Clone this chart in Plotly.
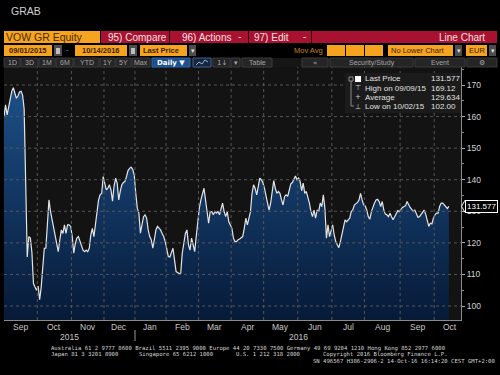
import pandas as pd
import plotly.graph_objects as go

# ---------------- data ----------------
holidays = ["2015-12-24", "2015-12-25", "2015-12-31", "2016-01-01", "2016-03-25", "2016-03-28"]

sep15 = [160.0, 163.7, 160.5, 163.0, 166.5, 168.0, 169.12, 167.5, 165.8, 166.5, 167.8,
         168.0, 166.8, 162.4, 132.0, 115.5, 122.0, 121.5, 117.0, 107.2, 106.0, 105.0]
oct15 = [106.3, 102.0, 106.0, 112.0, 118.3, 118.3, 125.0, 133.6, 130.0, 127.5, 125.2,
         122.5, 119.8, 117.2, 120.9, 124.1, 123.0, 125.7, 123.0, 125.7, 125.7, 125.2]
nov15 = [122.0, 116.7, 119.8, 121.5, 122.0, 120.4, 118.8, 117.7, 117.2, 117.7, 117.2,
         118.3, 122.5, 124.6, 122.0, 126.2, 128.9, 133.6, 135.2, 135.7, 141.0]
dec15 = [138.9, 136.8, 137.3, 138.4, 136.8, 133.2, 138.0, 140.5, 138.9, 133.6,
         136.3, 138.4, 139.1, 139.4, 141.0, 142.9, 143.6, 144.0, 143.3, 141.5]
jan16 = [135.7, 131.0, 129.4, 123.1, 125.7, 128.3, 128.9, 127.8, 124.1, 122.0,
         121.0, 118.3, 121.0, 124.1, 125.2, 124.6, 124.1, 123.0, 122.0, 120.4]
feb16 = [118.3, 115.7, 115.5, 117.2, 118.3, 114.6, 110.9, 110.6, 110.2, 110.4, 116.7,
         119.8, 123.0, 124.1, 119.4, 117.7, 121.5, 119.4, 117.2, 122.0, 127.3]
mar16 = [131.0, 133.6, 135.7, 137.3, 133.6, 130.4, 126.2, 129.9, 129.9, 128.9, 129.9,
         129.4, 129.9, 128.9, 131.0, 132.6, 129.9, 128.3, 129.9, 126.7, 125.7]
apr16 = [124.6, 121.5, 120.4, 120.4, 121.0, 121.2, 121.5, 122.0, 124.6, 127.8, 125.7,
         127.8, 129.9, 135.7, 138.4, 137.3, 135.2, 137.8, 140.5, 140.0, 139.1]
may16 = [137.3, 134.7, 132.6, 130.4, 132.6, 136.3, 139.7, 137.3, 135.7, 136.3, 135.7,
         133.6, 132.0, 134.7, 135.2, 134.7, 137.3, 138.7, 139.1, 140.0, 141.2, 140.0]
jun16 = [140.5, 139.5, 136.5, 138.9, 135.7, 136.3, 134.7, 132.6, 129.9, 128.3, 130.4,
         127.8, 130.4, 129.9, 132.6, 131.5, 135.2, 131.0, 121.5, 125.7, 122.0, 124.1]
jul16 = [125.7, 122.5, 120.4, 119.4, 118.5, 120.4, 123.0, 125.2, 127.3, 126.7, 127.3,
         127.8, 129.9, 130.4, 132.0, 132.3, 132.8, 133.6, 135.7, 133.6, 132.0]
aug16 = [131.7, 130.4, 128.3, 127.5, 129.9, 131.5, 132.6, 133.6, 133.8, 133.1, 131.5, 133.1,
         130.4, 129.1, 128.9, 128.3, 129.4, 128.3, 127.3, 128.3, 129.4, 130.2, 129.9]
sep16 = [130.6, 131.2, 131.5, 131.7, 133.1, 132.0, 131.2, 130.6, 129.9, 130.4, 129.1,
         128.1, 128.3, 129.1, 129.9, 130.4, 129.1, 127.5, 125.2, 126.2, 126.0, 127.8]
oct16 = [128.9, 129.4, 129.4, 131.5, 132.6, 132.6, 132.0, 131.7, 130.9, 131.577]

month_labels = ["Sep", "Oct", "Nov", "Dec", "Jan", "Feb", "Mar", "Apr", "May",
                "Jun", "Jul", "Aug", "Sep", "Oct"]
year_labels = ["2015", "2016"]
y_ticks = [100, 110, 120, 130, 140, 150, 160, 170]
last_price = 131.577
stats_labels = ["Last Price", "High on 09/09/15", "Average", "Low on 10/02/15"]
stats_values = ["131.577", "169.12", "129.634", "102.00"]

# ---------------- trading calendar ----------------
hol = pd.to_datetime(holidays)
cal = pd.bdate_range("2015-09-01", "2016-10-31")
cal = cal[~cal.isin(hol)]
dates = cal[cal <= pd.Timestamp("2016-10-14")]
prices = (sep15 + oct15 + nov15 + dec15 + jan16 + feb16 + mar16 + apr16 + may16
          + jun16 + jul16 + aug16 + sep16 + oct16)
assert len(prices) == len(dates)
pos = list(range(len(dates)))

periods = list(cal.to_period("M"))
months = []
for p in periods:
    if p not in months:
        months.append(p)
starts = [periods.index(m) for m in months]
counts = [periods.count(m) for m in months]
boundaries = [s - 0.5 for s in starts[1:]]
mids = [s - 0.5 + c / 2 for s, c in zip(starts, counts)]
year_b = starts[[i for i, m in enumerate(months) if m.year == 2016][0]] - 0.5

XMAX = 294.8
YMIN, YMAX = 95.57, 175.7

# ---------------- geometry helpers ----------------
W, H = 500, 375
L, R, T, B = 4, 39, 67, 55
PW, PH = W - L - R, H - T - B


def px(x):
    return (x - L) / PW


def py(y):
    return (H - B - y) / PH


shapes = []
annotations = []

ORANGE = "#f6a31f"
RED = "#a91131"
DARKTXT = "#3a1e00"
GRID = "#565656"
FONT = "Liberation Sans"


def rect(x0, y0, x1, y1, fill, line=None, lw=1):
    shapes.append(dict(type="rect", xref="paper", yref="paper",
                       x0=px(x0), x1=px(x1), y0=py(y1), y1=py(y0),
                       fillcolor=fill,
                       line=dict(color=line if line else fill, width=lw if line else 0),
                       layer="above"))


def seg(pts, color, w=1):
    path = "M " + " L ".join(f"{px(a):.5f},{py(b):.5f}" for a, b in pts)
    shapes.append(dict(type="path", xref="paper", yref="paper", path=path,
                       line=dict(color=color, width=w), layer="above"))


def text(x, y, s, size=9, color="#d8d8d8", anchor="left", family=FONT):
    annotations.append(dict(xref="paper", yref="paper", x=px(x), y=py(y), text=s,
                            showarrow=False, xanchor=anchor, yanchor="middle",
                            borderpad=0,
                            font=dict(size=size, color=color, family=family)))


# ---------------- grid (drawn over the fill) ----------------
for b in boundaries:
    shapes.append(dict(type="line", xref="x", yref="paper", x0=b, x1=b, y0=0, y1=1,
                       line=dict(color=GRID, width=1, dash="dot"), layer="above"))
for v in y_ticks:
    shapes.append(dict(type="line", xref="paper", yref="y", x0=0, x1=1, y0=v, y1=v,
                       line=dict(color=GRID, width=1, dash="dot"), layer="above"))

# ---------------- header / toolbar ----------------
text(10, 11, "GRAB", 10.5, "#d0d0d0")

# row 1
rect(4, 31, 100, 43, ORANGE)
text(5, 37, "VOW GR Equity", 10.5, "#4a2a00")
rect(101, 31, 497, 43, RED)
for sx in (169, 248, 311):
    rect(sx, 31, sx + 1, 43, "#2a0008")
text(137, 37, "95) Compare", 10, "#f4e2e2", "center")
text(206, 37, "96) Actions", 10, "#f4e2e2", "center")
text(239, 36, "-", 10, "#f4e2e2", "center")
text(271, 37, "97) Edit", 10, "#f4e2e2", "center")
text(304, 36, "-", 10, "#f4e2e2", "center")
text(486, 37, "Line Chart", 10, "#f4e2e2", "right")

# row 2
rect(4, 45, 52, 56, ORANGE)
text(28, 50.5, "<b>09/01/2015</b>", 7.5, DARKTXT, "center")
rect(54, 45, 62, 56, "#4d4d4d")
rect(56, 48, 60, 54, "#bdbdbd")
text(67, 50, "-", 8, "#9a9a9a", "center")
rect(75, 45, 127, 56, ORANGE)
text(101, 50.5, "<b>10/14/2016</b>", 7.5, DARKTXT, "center")
rect(129, 45, 137, 56, "#4d4d4d")
rect(131, 48, 135, 54, "#bdbdbd")
rect(140, 45, 187, 56, ORANGE)
text(142, 50.5, "<b>Last Price</b>", 7.5, DARKTXT)
rect(189, 45, 196, 56, "#4d4d4d")
text(192.5, 50.5, "▾", 7, "#dddddd", "center")
text(293, 50.5, "Mov Avg", 7.5, "#c98518")
for a, b in ((327, 345), (346, 364), (365, 383)):
    rect(a, 45, b, 56, ORANGE)
rect(388, 45, 453, 56, ORANGE)
text(390, 50.5, "No Lower Chart", 7.5, DARKTXT)
rect(455, 45, 462, 56, "#4d4d4d")
text(458.5, 50.5, "▾", 7, "#dddddd", "center")
rect(466, 45, 487, 56, ORANGE)
text(468, 50.5, "EUR", 7.5, DARKTXT)
rect(489, 45, 496, 56, "#4d4d4d")
text(492.5, 50.5, "▾", 7, "#dddddd", "center")

# row 3
rect(4, 58, 497, 67, "#161616")
left_btns = [(4, 20, "1D"), (21, 38, "3D"), (39, 55, "1M"), (56, 73, "6M"),
             (74, 99, "YTD"), (100, 115, "1Y"), (116, 131, "5Y"), (132, 150, "Max"),
             (213, 230, "1↓"), (231, 240, "▾"), (242, 272, "Table"),
             (302, 328, "«"), (330, 413, "Security/Study"), (415, 465, "Event"),
             (467, 497, "⚙")]
for a, b, s in left_btns:
    rect(a, 58, b, 67, "#252525", "#3a3a3a", 1)
    text((a + b) / 2, 62.5, s, 7, "#a6a6a6", "center",
         "DejaVu Sans" if s in ("⚙", "1↓", "▾", "«") else FONT)
rect(152, 58, 190, 67, "#1e4f8e", "#2d64a8", 1)
text(171, 62.5, "<b>Daily ▼</b>", 7, "#ffffff", "center", "DejaVu Sans")
rect(193, 58, 211, 67, "#18253a", "#3c5f94", 1)
seg([(196, 65), (199, 62), (202, 64), (205, 60), (208, 62)], "#8fb4e0", 1)

# ---------------- legend box ----------------
rect(345, 73, 461, 113, "#1b1b1b")
rect(349, 77, 353, 81, "#1b1b1b", "#8a8a8a", 1)
seg([(351, 81), (351, 106), (354, 106)], "#8a8a8a", 1)
rect(355, 76, 361, 82, "#ffffff")
row_y = [79, 88.3, 97.3, 106.5]
icons = ["", "⊤", "+", "⊥"]
for i, (lab, val) in enumerate(zip(stats_labels, stats_values)):
    if icons[i]:
        text(358, row_y[i], icons[i], 7, "#d0d0d0", "center", "DejaVu Sans")
    text(364, row_y[i], lab, 8, "#e2e2e2")
    text(430, row_y[i], val, 8, "#e2e2e2")

# ---------------- last price tag ----------------
yl = 85 + (170 - last_price) * 3.157
seg([(465, yl - 6), (461.5, yl), (465, yl + 6)], "#ffffff", 1)
annotations.append(dict(xref="paper", yref="y", x=px(464.5), y=last_price,
                        text=f"{last_price:.3f}", showarrow=False,
                        xanchor="left", yanchor="middle",
                        font=dict(size=8, color="#ffffff", family=FONT),
                        bgcolor="#000000", bordercolor="#ffffff",
                        borderwidth=1, borderpad=1))

# ---------------- x labels ----------------
for m, lab in zip(mids, month_labels):
    annotations.append(dict(xref="x", yref="paper", x=m, y=py(327), text=lab,
                            showarrow=False, xanchor="center", yanchor="middle",
                            font=dict(size=8.5, color="#c8c8c8", family=FONT)))
year_mids = [(-0.5 + year_b) / 2, (year_b + XMAX) / 2]
for m, lab in zip(year_mids, year_labels):
    annotations.append(dict(xref="x", yref="paper", x=m, y=py(336.5), text=lab,
                            showarrow=False, xanchor="center", yanchor="middle",
                            font=dict(size=8.5, color="#c8c8c8", family=FONT)))
shapes.append(dict(type="line", xref="x", yref="paper", x0=year_b, x1=year_b,
                   y0=py(341), y1=py(330), line=dict(color="#9a9a9a", width=1),
                   layer="above"))

# ---------------- footer ----------------
MONO = "DejaVu Sans Mono"
FS = 5.6
FC = "#d4d4d4"
text(50, 348, "Australia 61 2 9777 8600 Brazil 5511 2395 9000 Europe 44 20 7330 7500 "
              "Germany 49 69 9204 1210 Hong Kong 852 2977 6000", FS, FC, "left", MONO)
text(50, 354.5, "Japan 81 3 3201 8900", FS, FC, "left", MONO)
text(138, 354.5, "Singapore 65 6212 1000", FS, FC, "left", MONO)
text(235, 354.5, "U.S. 1 212 318 2000", FS, FC, "left", MONO)
text(322, 354.5, "Copyright 2016 Bloomberg Finance L.P.", FS, FC, "left", MONO)
text(496, 361, "SN 496567 H386-2906-2 14-Oct-16 16:14:20 CEST GMT+2:00", FS, FC, "right", MONO)

# ---------------- figure ----------------
fig = go.Figure()
fig.add_trace(go.Scatter(
    x=pos, y=prices, mode="lines",
    line=dict(color="#e4e4e4", width=1.2),
    fill="tozeroy",
    fillgradient=dict(type="vertical",
                      colorscale=[[0, "#071a38"], [1, "#1c5088"]],
                      start=YMIN, stop=170),
    hoverinfo="skip", showlegend=False,
))

fig.update_layout(
    width=W, height=H,
    margin=dict(l=L, r=R, t=T, b=B, autoexpand=False),
    paper_bgcolor="#000000",
    plot_bgcolor="#131313",
    showlegend=False,
    shapes=shapes,
    annotations=annotations,
    font=dict(family=FONT, color="#d0d0d0"),
    xaxis=dict(range=[0, XMAX], showgrid=False, zeroline=False, automargin=False,
               showticklabels=False, showline=True, linecolor="#8a8a8a",
               linewidth=1, ticks="", fixedrange=True),
    yaxis=dict(range=[YMIN, YMAX], side="right", showgrid=False, zeroline=False,
               automargin=False,
               tickvals=y_ticks, ticktext=[str(v) for v in y_ticks],
               ticks="outside", ticklen=3, tickcolor="#b0b0b0",
               tickfont=dict(size=8.5, color="#d2d2d2", family=FONT),
               showline=True, linecolor="#8a8a8a", linewidth=1,
               minor=dict(dtick=5, ticks="outside", ticklen=2, tickcolor="#8a8a8a"),
               fixedrange=True),
)

fig.write_html(
    "out.html",
    config={"displayModeBar": False},
    post_script="document.body.style.margin='0';document.body.style.background='#000';",
)
